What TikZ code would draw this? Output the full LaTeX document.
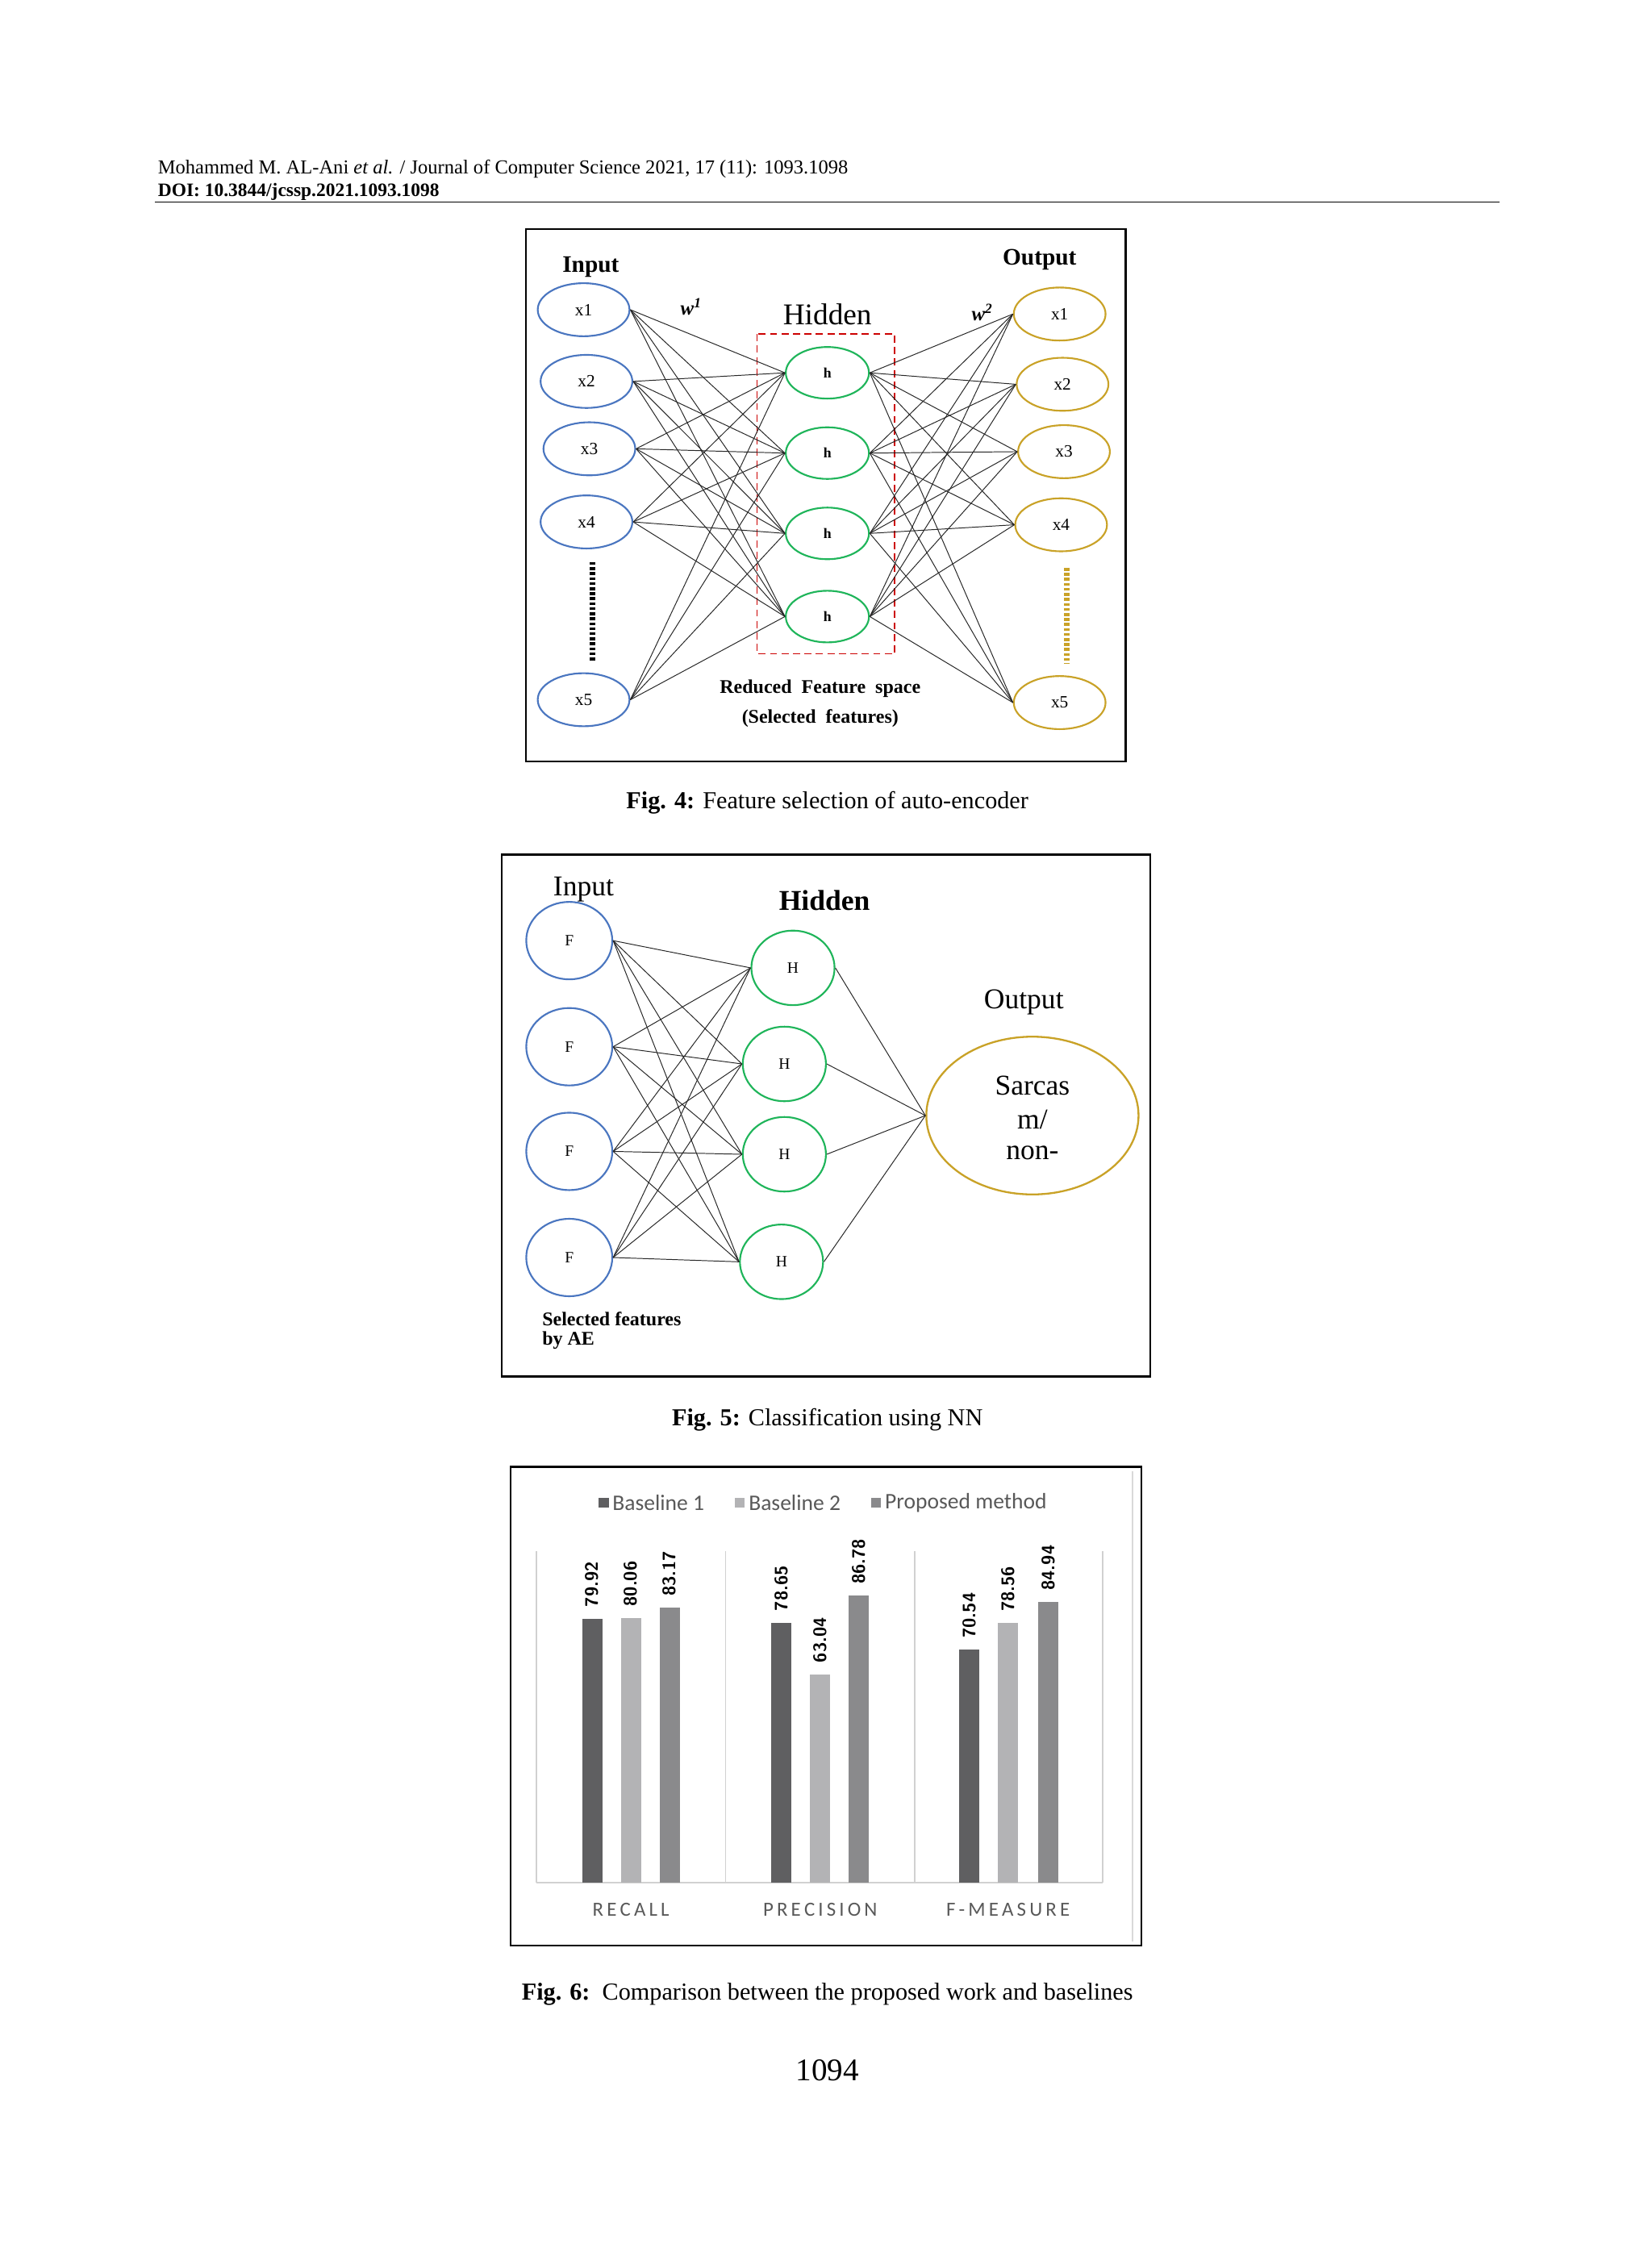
\documentclass[tikz,border=0pt]{standalone}
\usepackage{fontspec}
\usetikzlibrary{shapes.geometric}
\setmainfont{Liberation Serif}
\newfontfamily\calfont{Carlito}
\definecolor{cblue}{HTML}{4A76C0}
\definecolor{cgold}{HTML}{C9A227}
\definecolor{cgreen}{HTML}{1FB55A}
\begin{document}
\begin{tikzpicture}[x=1pt,y=-1pt,
 inn/.style={draw=cblue,line width=1.2pt,ellipse,minimum width=64pt,minimum height=37pt,inner sep=0pt,font=\fontsize{12}{13}\selectfont},
 outn/.style={draw=cgold,line width=1.2pt,ellipse,minimum width=64pt,minimum height=37pt,inner sep=0pt,font=\fontsize{12}{13}\selectfont},
 hid/.style={draw=cgreen,line width=1.2pt,ellipse,minimum width=58pt,minimum height=36pt,inner sep=0pt,font=\bfseries\fontsize{10}{11}\selectfont},
 fn/.style={draw=cblue,line width=1.2pt,ellipse,minimum width=60pt,minimum height=54pt,inner sep=0pt,font=\fontsize{11}{12}\selectfont},
 hn/.style={draw=cgreen,line width=1.2pt,ellipse,minimum width=58pt,minimum height=52pt,inner sep=0pt,font=\fontsize{11}{12}\selectfont},
 conn/.style={draw=black!85,line width=0.55pt},
 figcap/.style={font=\fontsize{17}{19}\selectfont},
 frm/.style={draw,line width=1.2pt}]
\useasboundingbox (0,0) rectangle (1152,1565);
\fill[white] (0,0) rectangle (1152,1565);
% header
\node[anchor=west,inner sep=0,font=\fontsize{13.8}{15}\selectfont] (h1) at (110,118) {Mohammed M. AL-Ani \textit{et al.} / Journal of Computer Science 2021, 17 (11): 1093.1098};
\node[anchor=west,inner sep=0,font=\bfseries\fontsize{13.2}{15}\selectfont] (h2) at (110,134) {DOI: 10.3844/jcssp.2021.1093.1098};
\draw[line width=0.8pt] (108,141) -- (1046,141);
% ---------- Fig 4
\draw[frm] (367,160) rectangle (785,531);
\node[font=\bfseries\fontsize{16.5}{17}\selectfont] (inl) at (412,186) {Input};
\node[font=\bfseries\fontsize{16.5}{17}\selectfont] (outl) at (725,181) {Output};
\node[font=\fontsize{21}{22}\selectfont] (hidl) at (577,219) {Hidden};
\node[font=\bfseries\itshape\fontsize{14}{15}\selectfont] (w1) at (482,214) {w\textsuperscript{1}};
\node[font=\bfseries\itshape\fontsize{14}{15}\selectfont] (w2) at (685,218) {w\textsuperscript{2}};
\foreach \n/\x/\y in {1/407/216,2/409/266,3/411/313,4/409/364,5/407/488} \node[inn] (i\n) at (\x,\y) {x\n};
\foreach \n/\x/\y in {1/739/219,2/741/268,3/742/315,4/740/366,5/739/490} \node[outn] (o\n) at (\x,\y) {x\n};
\foreach \n/\y in {1/260,2/316,3/372,4/430} \node[hid] (g\n) at (577,\y) {h};
\draw[red!80!black,line width=1pt,dash pattern=on 5pt off 3pt] (528,233) rectangle (624,456);
\draw[line width=4pt,dash pattern=on 2pt off 1.5pt] (413,392) -- (413,462);
\draw[line width=4pt,dash pattern=on 2pt off 1.5pt,cgold] (744,396) -- (744,463);
\foreach \a in {1,...,5} \foreach \b in {1,...,4} {\draw[conn] (i\a.east) -- (g\b.west); \draw[conn] (g\b.east) -- (o\a.west);}
\node[font=\bfseries\fontsize{13.5}{14}\selectfont] (r1) at (572,480) {Reduced\ \ Feature\ \ space};
\node[font=\bfseries\fontsize{13.5}{14}\selectfont] (r2) at (572,501) {(Selected\ \ features)};
\node[figcap] (c4) at (577,560) {\textbf{Fig. 4:} Feature selection of auto-encoder};
% ---------- Fig 5
\draw[frm] (350,596) rectangle (802,960);
\node[font=\fontsize{20}{21}\selectfont] (in5) at (407,620) {Input};
\node[font=\bfseries\fontsize{20}{21}\selectfont] (hd5) at (575,628) {Hidden};
\node[font=\fontsize{20}{21}\selectfont] (ou5) at (714,699) {Output};
\foreach \n/\y in {1/656,2/730,3/803,4/877} \node[fn] (f\n) at (397,\y) {F};
\foreach \n/\x/\y in {1/553/675,2/547/742,3/547/805,4/545/880} \node[hn] (k\n) at (\x,\y) {H};
\node[draw=cgold,line width=1.3pt,ellipse,minimum width=148pt,minimum height=110pt,inner sep=0pt] (sar) at (720,778) {};
\node[font=\fontsize{20}{21}\selectfont] at (720,757) {Sarcas};
\node[font=\fontsize{20}{21}\selectfont] at (720,781) {m/};
\node[font=\fontsize{20}{21}\selectfont] at (720,804) {non-};
\foreach \a in {1,...,4} {\foreach \b in {1,...,4} \draw[conn] (f\a.east) -- (k\b.west); \draw[conn] (k\a.east) -- (sar.west);}
\node[anchor=west,inner sep=0,font=\bfseries\fontsize{13.5}{14}\selectfont] (s1) at (378,920) {Selected features};
\node[anchor=west,inner sep=0,font=\bfseries\fontsize{13.5}{14}\selectfont] (s2) at (378,935) {by AE};
\node[figcap] (c5) at (577,990) {\textbf{Fig. 5:} Classification using NN};
% ---------- Fig 6
\definecolor{bA}{HTML}{5F5F61}\definecolor{bB}{HTML}{B3B3B5}\definecolor{bC}{HTML}{8A8A8C}
\draw[black!15,line width=1pt] (790,1026) -- (790,1354);
\draw[frm] (356,1023) rectangle (796,1357);
\foreach \c/\x/\t in {bA/421/Baseline 1,bB/516/Baseline 2,bC/611/Proposed method}{
 \fill[\c] (\x-3.5,1044.5) rectangle (\x+3.5,1051.5);
 \node[anchor=west,inner sep=0,text=black!65,font=\calfont\fontsize{15.5}{16}\selectfont] at (\x+6,1048) {\t};}
\draw[black!18,line width=1pt] (374,1313) -- (769,1313);
\foreach \x in {374,506,638,769} \draw[black!18,line width=1pt] (\x,1082) -- (\x,1313);
\foreach \x/\v/\c in {413/79.92/bA,440/80.06/bB,467/83.17/bC,545/78.65/bA,572/63.04/bB,599/86.78/bC,676/70.54/bA,703/78.56/bB,731/84.94/bC}{
 \fill[\c] (\x-7,1313) rectangle (\x+7,{1313-2.305*\v});
 \node[rotate=90,anchor=west,inner sep=0,font=\sffamily\bfseries\fontsize{12.5}{13}\selectfont] at (\x,{1313-2.305*\v-8}) {\v};}
\foreach \x/\t in {440/R\,E\,C\,A\,L\,L,572/P\,R\,E\,C\,I\,S\,I\,O\,N,703/F\,-\,M\,E\,A\,S\,U\,R\,E}
 \node[text=black!65,font=\calfont\fontsize{14}{15}\selectfont] at (\x,1332) {\t};
\node[figcap] (c6) at (577,1391) {\textbf{Fig. 6:}\ \ Comparison between the proposed work and baselines};
\node[font=\fontsize{22}{24}\selectfont] (pg) at (577,1444) {1094};
\end{tikzpicture}
\end{document}
